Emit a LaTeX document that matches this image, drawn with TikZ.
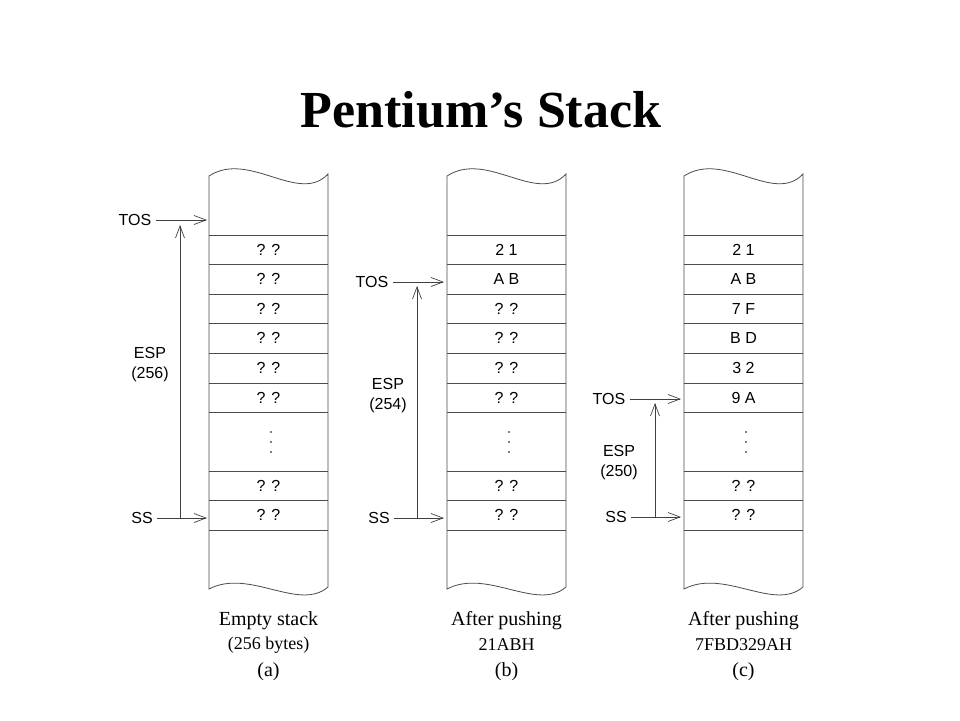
\documentclass[tikz,border=0pt]{standalone}
\usepackage{fontspec}
\setmainfont{Liberation Serif}
\setsansfont{Liberation Sans}
\usetikzlibrary{arrows.meta}
\tikzstyle{cell}=[font=\sffamily\fontsize{16}{16}\selectfont, inner sep=0pt]
\tikzstyle{reg}=[font=\sffamily\fontsize{16}{20}\selectfont, align=center, inner sep=1.5pt]
\tikzstyle{ptr}=[-{Straight Barb[length=12pt,width=9pt]}, black!75, line width=0.7pt, shorten <=3pt]
\tikzstyle{frame}=[black!70, line width=0.8pt]
\tikzstyle{caption}=[font=\fontsize{20}{20}\selectfont, inner sep=0pt]
\tikzstyle{subcaption}=[font=\fontsize{18}{18}\selectfont, inner sep=0pt]

\begin{document}
\begin{tikzpicture}[x=1pt, y=-1pt]
\useasboundingbox[fill=white] (0,0) rectangle (960,720);

\node[inner sep=0pt] (title) at (481,110) {\fontsize{52}{52}\selectfont\bfseries Pentium’s Stack};

%(a) empty stack
    \def\dx{209};
    \draw[frame] (\dx,176) .. controls (\dx+40,150) and (\dx+90,205) .. (\dx+119,174) -- (\dx+119,587)
        .. controls (\dx+90,612) and (\dx+40,568) .. (\dx,589) -- cycle;
    \foreach \y in {235,264,294,323,353,383,412,471,500,530}
        \draw[frame] (\dx,\y) -- (\dx+119,\y);
    \foreach \y/\name/\val in {249.5/a1/{? ?}, 279/a2/{? ?}, 308.5/a3/{? ?}, 338/a4/{? ?}, 368/a5/{? ?}, 397.5/a6/{? ?}, 485.5/a7/{? ?}, 515/a8/{? ?}}
        \node[cell] (\name) at (\dx+59.5,\y) {\val};
    \foreach \y in {432,442,452}
        \fill (\dx+62,\y) circle (0.8pt);

    \node[reg] (tosa) at (135,220) {TOS};
    \node[reg] (ssa) at (142,518) {SS};
    \node[reg] (espa) at (150,365) {ESP\\(256)};
    \coordinate (tosa-in) at (207,220);
    \coordinate (ssa-in) at (207,518);
    \coordinate (espa-bot) at (180,518);
    \coordinate (espa-top) at (180,225);
    \draw[ptr] (tosa) -- (tosa-in);
    \draw[ptr] (ssa) -- (ssa-in);
    \draw[ptr, shorten <=0pt] (espa-bot) -- (espa-top);

    \node[caption] (capa) at (\dx+59.5,621) {Empty stack};
    \node[subcaption] (suba) at (\dx+59.5,645) {(256 bytes)};
    \node[caption] (laba) at (\dx+59.5,672) {(a)};

%(b) after pushing 21ABH
    \def\dx{447};
    \draw[frame] (\dx,176) .. controls (\dx+40,150) and (\dx+90,205) .. (\dx+119,174) -- (\dx+119,587)
        .. controls (\dx+90,612) and (\dx+40,568) .. (\dx,589) -- cycle;
    \foreach \y in {235,264,294,323,353,383,412,471,500,530}
        \draw[frame] (\dx,\y) -- (\dx+119,\y);
    \foreach \y/\name/\val in {249.5/b1/{2 1}, 279/b2/{A B}, 308.5/b3/{? ?}, 338/b4/{? ?}, 368/b5/{? ?}, 397.5/b6/{? ?}, 485.5/b7/{? ?}, 515/b8/{? ?}}
        \node[cell] (\name) at (\dx+59.5,\y) {\val};
    \foreach \y in {432,442,452}
        \fill (\dx+62,\y) circle (0.8pt);

    \node[reg] (tosb) at (372,282) {TOS};
    \node[reg] (ssb) at (379,518) {SS};
    \node[reg] (espb) at (388,396) {ESP\\(254)};
    \coordinate (tosb-in) at (444,282);
    \coordinate (ssb-in) at (444,518);
    \coordinate (espb-bot) at (417,518);
    \coordinate (espb-top) at (417,286);
    \draw[ptr] (tosb) -- (tosb-in);
    \draw[ptr] (ssb) -- (ssb-in);
    \draw[ptr, shorten <=0pt] (espb-bot) -- (espb-top);

    \node[caption] (capb) at (\dx+59.5,621) {After pushing};
    \node[subcaption] (subb) at (\dx+59.5,645) {21ABH};
    \node[caption] (labb) at (\dx+59.5,672) {(b)};

%(c) after pushing 7FBD329AH
    \def\dx{684};
    \draw[frame] (\dx,176) .. controls (\dx+40,150) and (\dx+90,205) .. (\dx+119,174) -- (\dx+119,587)
        .. controls (\dx+90,612) and (\dx+40,568) .. (\dx,589) -- cycle;
    \foreach \y in {235,264,294,323,353,383,412,471,500,530}
        \draw[frame] (\dx,\y) -- (\dx+119,\y);
    \foreach \y/\name/\val in {249.5/c1/{2 1}, 279/c2/{A B}, 308.5/c3/{7 F}, 338/c4/{B D}, 368/c5/{3 2}, 397.5/c6/{9 A}, 485.5/c7/{? ?}, 515/c8/{? ?}}
        \node[cell] (\name) at (\dx+59.5,\y) {\val};
    \foreach \y in {432,442,452}
        \fill (\dx+62,\y) circle (0.8pt);

    \node[reg] (tosc) at (609,399) {TOS};
    \node[reg] (ssc) at (616,517) {SS};
    \node[reg] (espc) at (619,462.5) {ESP\\(250)};
    \coordinate (tosc-in) at (681,399);
    \coordinate (ssc-in) at (681,517);
    \coordinate (espc-bot) at (655,517);
    \coordinate (espc-top) at (655,403);
    \draw[ptr] (tosc) -- (tosc-in);
    \draw[ptr] (ssc) -- (ssc-in);
    \draw[ptr, shorten <=0pt] (espc-bot) -- (espc-top);

    \node[caption] (capc) at (\dx+59.5,621) {After pushing};
    \node[subcaption] (subc) at (\dx+59.5,645) {7FBD329AH};
    \node[caption] (labc) at (\dx+59.5,672) {(c)};

\end{tikzpicture}
\end{document}
